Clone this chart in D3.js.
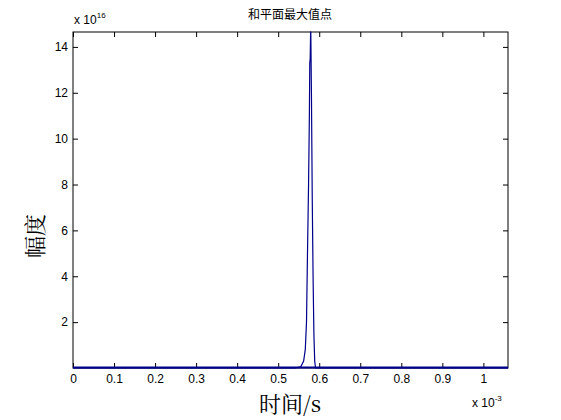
<!DOCTYPE html><html><head><meta charset="utf-8"><script src="https://cdn.jsdelivr.net/npm/d3@7"></script>
<style>body{margin:0;background:#fff}</style></head><body><svg id="c" width="561" height="420"></svg><script>
const xs=[0,0.54,0.555,0.562,0.566,0.569,0.571,0.574,0.576,0.577,0.578,0.579,0.5795,0.581,0.583,0.585,0.587,0.589,0.591,1.06];
const ys=[0,0,0.05,0.3,0.8,2,4.5,8,11,13.3,13.5,14.65,14.65,12,7.4,4,1.5,0.3,0,0];
const xTicks=[0,0.1,0.2,0.3,0.4,0.5,0.6,0.7,0.8,0.9,1];
const yTicks=[2,4,6,8,10,12,14];
const svg=d3.select("#c"),L=73,R=508,T=32,B=368;
const x=d3.scaleLinear().domain([0,1.06]).range([L,R]);
const y=d3.scaleLinear().domain([0,14.65]).range([B,T]);
svg.append("rect").attr("x",L).attr("y",T).attr("width",R-L).attr("height",B-T).attr("fill","#fff").attr("stroke","#000");
const f="Arial, Liberation Sans, sans-serif";
const gx=svg.append("g").attr("transform",`translate(0,${B})`).call(d3.axisBottom(x).tickValues(xTicks).tickSize(-5).tickSizeOuter(0).tickFormat(d3.format("~g")));
const gxt=svg.append("g").attr("transform",`translate(0,${T})`).call(d3.axisTop(x).tickValues(xTicks).tickSize(-5).tickSizeOuter(0).tickFormat(""));
const gy=svg.append("g").attr("transform",`translate(${L},0)`).call(d3.axisLeft(y).tickValues(yTicks).tickSize(-5).tickSizeOuter(0));
const gyr=svg.append("g").attr("transform",`translate(${R},0)`).call(d3.axisRight(y).tickValues(yTicks).tickSize(-5).tickSizeOuter(0).tickFormat(""));
[gx,gxt,gy,gyr].forEach(g=>{g.select(".domain").remove();g.selectAll("text").attr("font-family",f).attr("font-size",12).attr("fill","#000");});
gx.selectAll("text").attr("dy","1em");gy.selectAll("text").attr("dx","-2");
svg.append("path").datum(xs.map((v,i)=>[v,ys[i]])).attr("fill","none").attr("stroke","#00008b").attr("stroke-width",1.2)
 .attr("d",d3.line().x(d=>x(d[0])).y(d=>y(d[1])));
svg.append("line").attr("x1",L).attr("x2",R).attr("y1",B-0.5).attr("y2",B-0.5).attr("stroke","#00008b").attr("stroke-width",2);
svg.append("text").attr("x",74).attr("y",24).attr("font-family",f).attr("font-size",12).html('x 10<tspan dy="-6" font-size="8">16</tspan>');
svg.append("text").attr("x",472).attr("y",407).attr("font-family",f).attr("font-size",12).html('x 10<tspan dy="-6" font-size="8">-3</tspan>');
svg.append("text").attr("x",290).attr("y",19).attr("text-anchor","middle").attr("font-family","Noto Sans CJK SC").attr("font-size",12).text("和平面最大值点");
svg.append("text").attr("transform","translate(43,236) rotate(-90)").attr("text-anchor","middle").attr("font-family","Noto Serif CJK SC, Noto Sans CJK SC").attr("font-size",22).text("幅度");
svg.append("text").attr("x",290).attr("y",412).attr("text-anchor","middle").attr("font-family","Noto Serif CJK SC, Noto Sans CJK SC").attr("font-size",22).text("时间/s");
</script></body></html>
